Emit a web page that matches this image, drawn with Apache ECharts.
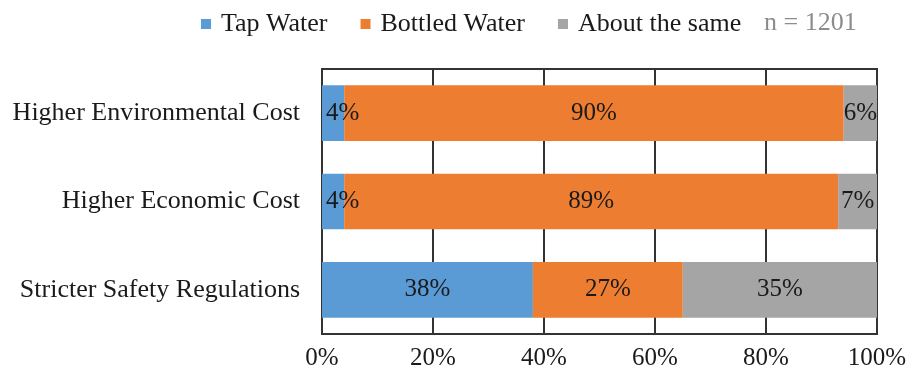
<!DOCTYPE html>
<html>
<head>
<meta charset="utf-8">
<script src="https://cdn.jsdelivr.net/npm/echarts@6/dist/echarts.min.js"></script>
<style>
  html, body { margin: 0; padding: 0; background: #fff; }
  #chart { width: 914px; height: 377px; }
</style>
</head>
<body>
<div id="chart"></div>
<script>
// Survey categories, listed bottom-to-top as the category axis draws them
const categories = ['Stricter Safety Regulations', 'Higher Economic Cost', 'Higher Environmental Cost'];
// Share of respondents (%) per answer
const tapWater = [38, 4, 4];
const bottledWater = [27, 89, 90];
const aboutSame = [35, 7, 6];
const seriesNames = ['Tap Water', 'Bottled Water', 'About the same'];
const xTicks = [0, 20, 40, 60, 80, 100];
const sampleNote = 'n = 1201';

const FONT = '"Liberation Serif", "Times New Roman", serif';
const TEXT = '#1a1a1a';
const LINE = '#333333';
const colors = ['#5B9BD5', '#ED7D31', '#A5A5A5'];

const chart = echarts.init(document.getElementById('chart'), null, { renderer: 'canvas' });

// Narrow segments at the left edge get their label pushed inside the plot
function withLabels(values, nudgeLeft) {
  return values.map(v => (nudgeLeft && v < 10)
    ? { value: v, label: { position: 'insideLeft', distance: 4 } }
    : v);
}

function barSeries(name, values, color, nudgeLeft) {
  return {
    name: name,
    type: 'bar',
    stack: 'total',
    barWidth: '63%',
    data: withLabels(values, nudgeLeft),
    itemStyle: { color: color },
    label: {
      show: true,
      position: 'inside',
      formatter: '{c}%',
      color: TEXT,
      fontFamily: FONT,
      fontSize: 25
    },
    emphasis: { disabled: true }
  };
}

chart.setOption({
  animation: false,
  textStyle: { fontFamily: FONT },
  legend: {
    data: seriesNames,
    left: 196,
    top: 6,
    icon: 'rect',
    itemWidth: 10,
    itemHeight: 10,
    itemGap: 33,
    textStyle: {
      fontFamily: FONT,
      fontSize: 26,
      color: TEXT,
      padding: [0, 0, 0, 5]
    }
  },
  graphic: [{
    type: 'text',
    left: 764,
    top: 10,
    style: {
      text: sampleNote,
      font: '26px ' + FONT,
      fill: '#8c8c8c'
    }
  }],
  grid: {
    left: 322,
    right: 37,
    top: 69,
    bottom: 43,
    show: true,
    borderColor: LINE,
    borderWidth: 2
  },
  xAxis: {
    type: 'value',
    min: xTicks[0],
    max: xTicks[xTicks.length - 1],
    interval: xTicks[1] - xTicks[0],
    axisLine: { show: true, lineStyle: { color: LINE, width: 2 } },
    axisTick: { show: false },
    splitLine: { show: true, lineStyle: { color: LINE, width: 2 } },
    axisLabel: {
      formatter: '{value}%',
      color: TEXT,
      fontFamily: FONT,
      fontSize: 25,
      margin: 12
    }
  },
  yAxis: {
    type: 'category',
    data: categories,
    axisLine: { show: true, lineStyle: { color: LINE, width: 2 } },
    axisTick: { show: false },
    axisLabel: {
      color: TEXT,
      fontFamily: FONT,
      fontSize: 26,
      margin: 22
    }
  },
  series: [
    barSeries(seriesNames[0], tapWater, colors[0], true),
    barSeries(seriesNames[1], bottledWater, colors[1], false),
    barSeries(seriesNames[2], aboutSame, colors[2], false)
  ]
});
</script>
</body>
</html>
